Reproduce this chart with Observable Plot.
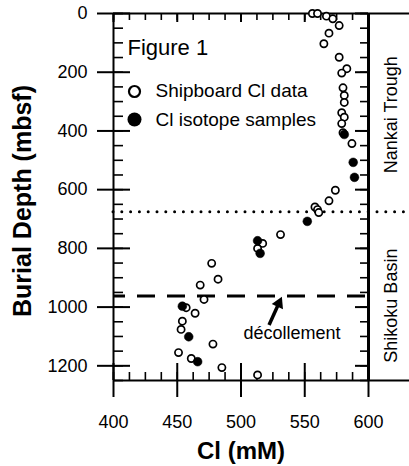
<!DOCTYPE html>
<html><head><meta charset="utf-8">
<script src="https://cdn.jsdelivr.net/npm/d3@7"></script>
<script src="https://cdn.jsdelivr.net/npm/@observablehq/plot@0.6"></script>
<style>body{margin:0;background:#fff}</style>
</head><body><div id="chart"></div>
<script>
// Shipboard Cl data (open circles)
const shipCl    = [556,560,567,572,577,569,565,577,583,579,580,581,581,579,581,579,580,587,574,569,558,560,561,531,517,513,477,482,468,471,457,464,454,453,478,451,461,485,513];
const shipDepth = [0,0,9,18,41,67,103,149,188,203,253,279,303,338,353,375,406,443,602,638,659,668,678,753,783,800,851,905,925,974,1002,1021,1048,1076,1126,1155,1175,1206,1231];
// Cl isotope samples (filled circles)
const isoCl    = [581,588,589,552,513,515,454,459,466];
const isoDepth = [412,507,558,708,774,817,997,1101,1186];

const xTicks = [400,450,500,550,600];
const xMinor = d3.range(400, 600.01, 12.5);
const yTicks = [0,200,400,600,800,1000,1200];
const yMinor = d3.range(0, 1250.01, 50);
const yMax = 1250;

const boundaryDepth = [675];      // Nankai Trough / Shikoku Basin
const decollementDepth = [962];
const regionLabels = ["Nankai Trough","Shikoku Basin"];
const regionLabelDepth = [345, 995];
const legendLabels = ["Shipboard Cl data","Cl isotope samples"];
const figureTitle = "Figure 1";
const xLabel = "Cl (mM)";
const yLabel = "Burial Depth (mbsf)";
const decollementLabel = {text: "décollement", x: 540, y: 1090};
const arrowAnn = {x1: 522, y1: 1061, x2: 532, y2: 965};

const ship = shipCl.map((c,i) => ({cl: c, depth: shipDepth[i]}));
const iso = isoCl.map((c,i) => ({cl: c, depth: isoDepth[i]}));
// arrow head centre, a little back from the tip
const headT = 0.23;
const arrowHead = {x: arrowAnn.x2 - headT * (arrowAnn.x2 - arrowAnn.x1), y: arrowAnn.y2 - headT * (arrowAnn.y2 - arrowAnn.y1)};
const arrowShaft = {x1: arrowAnn.x1, y1: arrowAnn.y1, x2: arrowHead.x, y2: arrowHead.y};

const W = 409, H = 466, mL = 113, mT = 13, mB = 86, mR = 0;
const xRight = 368;           // pixel of x = 600
const frameW = W - mL - mR;   // 296
const frameH = H - mT - mB;   // 367
const rOff = W - xRight;      // 41

const chart = Plot.plot({
  width: W, height: H,
  marginLeft: mL, marginRight: mR, marginTop: mT, marginBottom: mB,
  style: {fontFamily: "Liberation Sans, Arial, sans-serif", background: "white", color: "black"},
  x: {domain: [xTicks[0], xTicks[xTicks.length-1]], range: [mL, xRight]},
  y: {domain: [0, yMax], range: [mT, H - mB]},
  marks: [
    // bottom ticks (inward)
    Plot.tickX(xMinor, {x: d => d, insetTop: frameH - 8, strokeWidth: 1.6}),
    Plot.tickX(xTicks, {x: d => d, insetTop: frameH - 17, strokeWidth: 2}),
    // top ticks (inward)
    Plot.tickX(xMinor, {x: d => d, insetBottom: frameH - 7, strokeWidth: 1.6}),
    Plot.tickX(xTicks, {x: d => d, insetBottom: frameH - 9, strokeWidth: 2}),
    // left ticks (inward)
    Plot.tickY(yMinor, {y: d => d, insetRight: frameW - 10, strokeWidth: 1.6}),
    Plot.tickY(yTicks, {y: d => d, insetRight: frameW - 17, strokeWidth: 2}),
    // right ticks (inward from x=600)
    Plot.tickY(yMinor, {y: d => d, insetLeft: frameW - rOff - 8, insetRight: rOff, strokeWidth: 1.6}),
    Plot.tickY(yTicks, {y: d => d, insetLeft: frameW - rOff - 13, insetRight: rOff, strokeWidth: 2}),
    // frame lines
    Plot.ruleX([xTicks[0]], {strokeWidth: 2}),
    Plot.ruleX([xTicks[xTicks.length-1]], {strokeWidth: 3}),
    Plot.ruleY([0, yMax], {strokeWidth: 2}),
    // boundary lines
    Plot.ruleY(boundaryDepth, {strokeWidth: 3, strokeDasharray: "0,8.8", strokeLinecap: "round"}),
    Plot.ruleY(decollementDepth, {x1: xTicks[0], x2: xTicks[xTicks.length-1], strokeWidth: 3, strokeDasharray: "18,12", strokeDashoffset: 6}),
    // data
    Plot.dot(ship, {x: "cl", y: "depth", r: 3.6, stroke: "black", strokeWidth: 1.7, fill: "white"}),
    Plot.dot(iso, {x: "cl", y: "depth", r: 4.4, fill: "black", stroke: "black", strokeWidth: 0.5}),
    // axes
    Plot.axisX({ticks: xTicks, tickSize: 17, tickPadding: 18, strokeWidth: 2, fontSize: 18, label: null}),
    Plot.axisY({ticks: yTicks, tickSize: 16, tickPadding: 10, strokeWidth: 2, fontSize: 18, label: null, tickFormat: d => String(d)}),
    // axis titles
    Plot.text([xLabel], {x: (xTicks[0] + xTicks[xTicks.length-1]) / 2, frameAnchor: "bottom", lineAnchor: "middle", dy: 71, fontSize: 24, fontWeight: "bold"}),
    Plot.text([yLabel], {frameAnchor: "left", textAnchor: "middle", lineAnchor: "middle", dx: -91, dy: 4, rotate: -90, fontSize: 25, fontWeight: "bold"}),
    // region labels
    Plot.text(regionLabels, {y: regionLabelDepth, frameAnchor: "right", textAnchor: "middle", lineAnchor: "middle", dx: -18, rotate: -90, fontSize: 18}),
    // décollement annotation
    Plot.link([arrowShaft], {x1: "x1", y1: "y1", x2: "x2", y2: "y2", strokeWidth: 3.5}),
    Plot.dot([arrowHead], {x: "x", y: "y", symbol: "triangle", r: 4.6, fill: "black", rotate: 25}),
    Plot.text([decollementLabel], {x: "x", y: "y", text: "text", fontSize: 18}),
    // figure title & legend
    Plot.text([figureTitle], {frameAnchor: "top-left", lineAnchor: "middle", dx: 14, dy: 34, textAnchor: "start", fontSize: 22}),
    Plot.dot([legendLabels[0]], {frameAnchor: "top-left", dx: 21, dy: 78, r: 5.5, stroke: "black", strokeWidth: 2.2, fill: "white"}),
    Plot.dot([legendLabels[1]], {frameAnchor: "top-left", dx: 21, dy: 106, r: 7, fill: "black"}),
    Plot.text([legendLabels[0]], {frameAnchor: "top-left", lineAnchor: "middle", dx: 42, dy: 77, textAnchor: "start", fontSize: 19}),
    Plot.text([legendLabels[1]], {frameAnchor: "top-left", lineAnchor: "middle", dx: 42, dy: 106, textAnchor: "start", fontSize: 19})
  ]
});
document.getElementById("chart").appendChild(chart);
</script>
</body></html>
